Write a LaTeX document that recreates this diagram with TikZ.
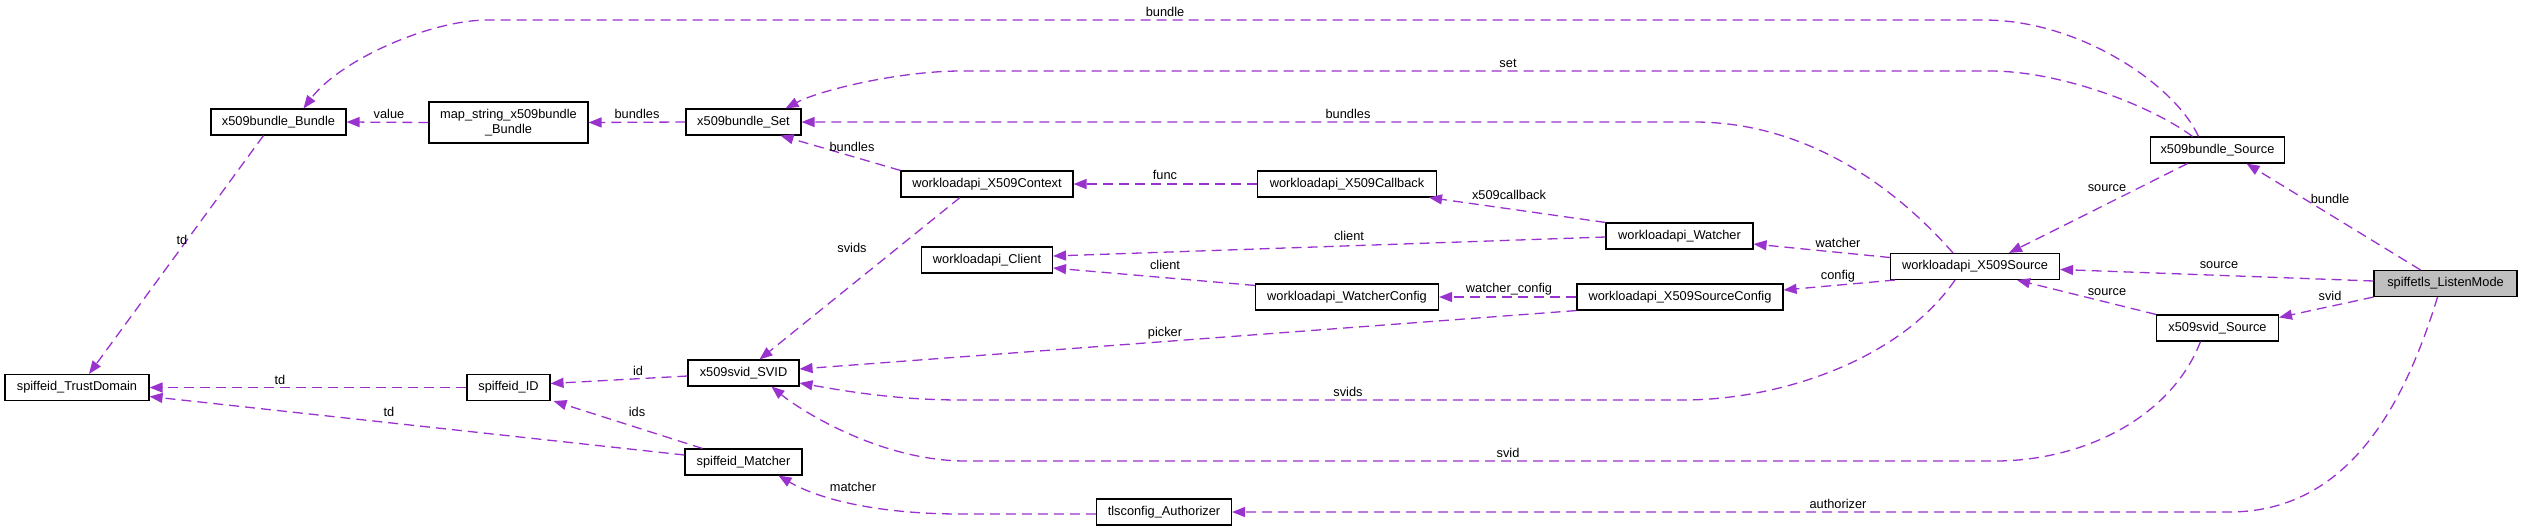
\documentclass[tikz,border=0pt]{standalone}
\usepackage{fontspec}
\setmainfont{Liberation Sans}
\usepackage{xcolor}
\usepackage{tikz}
\usetikzlibrary{arrows.meta}
\definecolor{dgEdge}{HTML}{9A32CD}
\definecolor{dgInk}{HTML}{000000}
\definecolor{dgFocus}{HTML}{BFBFBF}
\tikzset{
  dg diagram/.style={font=\fontsize{12.8}{14.5}\selectfont, text=dgInk,
    x=1pt, y=-1pt},
  dg box/.style={draw=dgInk, fill=white, line width=1.1pt,
    minimum width=#1, minimum height=26pt, inner sep=0pt, align=center},
  dg focus/.style={dg box=#1, fill=dgFocus},
  dg edge/.style={-{Triangle[length=13pt,width=10pt]}, draw=dgEdge,
    line width=1.3pt, dash pattern=on 10pt off 6pt},
  dg label/.style={inner sep=0pt}
}

\begin{document}
\begin{tikzpicture}[dg diagram]
\useasboundingbox (0,0) rectangle (2523,531);
% classes
\node[dg box=135pt] (bundleBundle) at (278.5,122) {x509bundle\_Bundle};
\node[dg box=159pt, minimum height=41pt] (mapBundle) at (508.5,122.5) {map\_string\_x509bundle\\\_Bundle};
\node[dg box=115pt] (bundleSet) at (743.5,122) {x509bundle\_Set};
\node[dg box=144pt] (trustDomain) at (77,387.5) {spiffeid\_TrustDomain};
\node[dg box=83pt] (spiffeID) at (508.5,387.5) {spiffeid\_ID};
\node[dg box=111pt] (svidSVID) at (743.5,373) {x509svid\_SVID};
\node[dg box=117pt] (matcher) at (743.5,462) {spiffeid\_Matcher};
\node[dg box=172pt] (x509Context) at (987,184) {workloadapi\_X509Context};
\node[dg box=179pt] (x509Callback) at (1347,184) {workloadapi\_X509Callback};
\node[dg box=131pt] (client) at (987,260) {workloadapi\_Client};
\node[dg box=183pt] (watcherConfig) at (1347,297) {workloadapi\_WatcherConfig};
\node[dg box=147pt] (watcher) at (1679.5,236) {workloadapi\_Watcher};
\node[dg box=206pt] (sourceConfig) at (1680,297) {workloadapi\_X509SourceConfig};
\node[dg box=134pt] (bundleSource) at (2217.5,150) {x509bundle\_Source};
\node[dg box=169pt] (x509Source) at (1975,266.5) {workloadapi\_X509Source};
\node[dg focus=143pt] (listenMode) at (2445.5,283.5) {spiffetls\_ListenMode};
\node[dg box=122pt] (svidSource) at (2217.5,328) {x509svid\_Source};
\node[dg box=135pt] (authorizer) at (1164,512) {tlsconfig\_Authorizer};
% members
\draw[dg edge] ([xshift=-19pt]bundleSource.north) .. controls (2175,85) and (2080,20) .. (1984,20)
  -- (488,20) .. controls (430,20) and (340,60) .. ([xshift=25pt]bundleBundle.north);
\draw[dg edge] ([xshift=-25pt]bundleSource.north) .. controls (2150,105) and (2060,71) .. (1990,71)
  -- (961,71) .. controls (900,71) and (820,90) .. ([xshift=42pt]bundleSet.north);
\draw[dg edge] ([xshift=-22pt]x509Source.north) .. controls (1880,170) and (1790,122) .. (1694,122)
  -- (bundleSet.east);
\draw[dg edge] (x509Context.north west) -- ([xshift=37pt]bundleSet.south);
\draw[dg edge] (mapBundle.west) -- (bundleBundle.east);
\draw[dg edge] (bundleSet.west) -- (mapBundle.east);
\draw[dg edge] ([xshift=-15pt]bundleBundle.south) -- ([xshift=12pt]trustDomain.north);
\draw[dg edge] (x509Callback.west) -- (x509Context.east);
\draw[dg edge] (watcher.north west) -- ([xshift=-8pt]x509Callback.south east);
\draw[dg edge] ([yshift=-1pt]watcher.west) -- ([yshift=4pt]client.east);
\draw[dg edge] ([yshift=-2pt]watcherConfig.north west) -- ([yshift=-8pt]client.east);
\draw[dg edge] (sourceConfig.west) -- (watcherConfig.east);
\draw[dg edge] ([yshift=9pt]x509Source.west) -- ([yshift=-8pt]watcher.east);
\draw[dg edge] ([xshift=5pt]x509Source.south west) -- ([yshift=7pt]sourceConfig.east);
\draw[dg edge] ([xshift=-30pt]bundleSource.south) -- ([xshift=34pt]x509Source.north);
\draw[dg edge] ([xshift=-25pt]listenMode.north) -- ([xshift=29pt]bundleSource.south);
\draw[dg edge] ([yshift=2.5pt]listenMode.west) -- ([yshift=-3pt]x509Source.east);
\draw[dg edge] (listenMode.south west) -- ([yshift=-3pt]svidSource.north east);
\draw[dg edge] (svidSource.north west) -- ([xshift=42pt]x509Source.south);
\draw[dg edge] ([xshift=-27pt]x509Context.south) -- ([xshift=16pt]svidSVID.north);
\draw[dg edge] (sourceConfig.south west) -- ([yshift=4pt]svidSVID.east);
\draw[dg edge] ([xshift=-20pt]x509Source.south) .. controls (1900,360) and (1780,400) .. (1683,400)
  -- (961,400) .. controls (900,400) and (850,392) .. ([yshift=-10pt]svidSVID.east);
\draw[dg edge] ([xshift=-17pt]svidSource.south) .. controls (2170,420) and (2080,461) .. (1995,461)
  -- (966,461) .. controls (880,461) and (800,410) .. ([xshift=28pt]svidSVID.south);
\draw[dg edge] ([xshift=-8pt]listenMode.south) .. controls (2400,420) and (2340,512) .. (2229,512)
  -- (authorizer.east);
\draw[dg edge] ([yshift=-2pt]authorizer.west) -- (961,514) .. controls (880,514) and (820,500) .. ([xshift=35pt]matcher.south);
\draw[dg edge] ([yshift=-3pt]svidSVID.west) -- ([yshift=4pt]spiffeID.east);
\draw[dg edge] (spiffeID.west) -- (trustDomain.east);
\draw[dg edge] ([xshift=-41pt]matcher.north) -- ([xshift=3pt]spiffeID.south east);
\draw[dg edge] ([yshift=7pt]matcher.west) -- ([yshift=-9pt]trustDomain.east);
% member names
\foreach \name/\x/\y/\txt in {
  lBundleA/1165/12/bundle, lSet/1508/63/set, lBundlesA/1348/114/bundles,
  lBundlesB/852/147/bundles, lValue/389/114/value, lBundlesC/637/114/bundles,
  lTdA/182/240/td, lFunc/1165/175/func, lCallback/1509/195/x509callback,
  lClientA/1349/236/client, lClientB/1165/265/client,
  lWatcherCfg/1509/289/watcher\_config, lWatcher/1838/243/watcher,
  lConfig/1838/276/config, lSourceA/2107/188/source, lBundleB/2330/199/bundle,
  lSourceB/2219/265/source, lSvidA/2330/296/svid, lSourceC/2107/292/source,
  lSvidsA/852/248/svids, lPicker/1165/333/picker, lSvidsB/1348/392/svids,
  lSvidB/1508/453/svid, lAuthorizer/1838/504/authorizer, lMatcher/853/487/matcher,
  lId/638/371/id, lTdB/280/380/td, lIds/637/412/ids, lTdC/389/412/td}{
  \node[dg label] (\name) at (\x,\y) {\txt};
}
\end{tikzpicture}
\end{document}
